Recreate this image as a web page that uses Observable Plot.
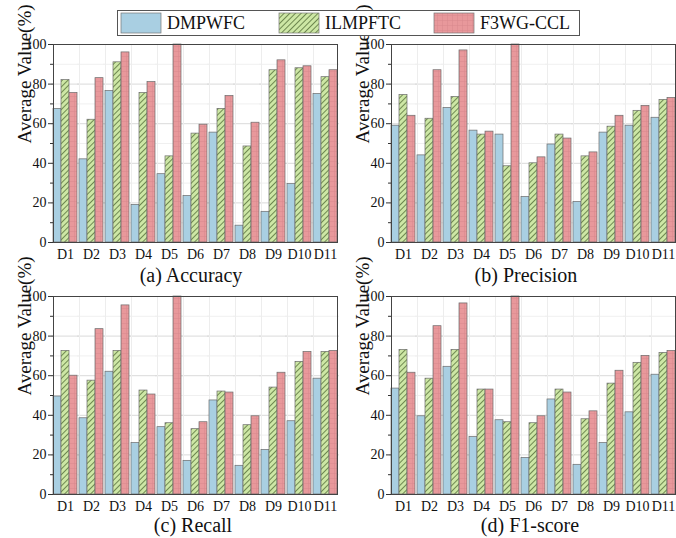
<!DOCTYPE html>
<html><head><meta charset="utf-8">
<script src="https://cdn.jsdelivr.net/npm/d3@7"></script>
<script src="https://cdn.jsdelivr.net/npm/@observablehq/plot@0.6"></script>
<style>
body{margin:0;background:#fff;overflow:hidden;font-family:"Liberation Serif","Times New Roman",serif;}
#root{position:relative;width:676px;height:538px;overflow:hidden;}
.panel{position:absolute;}
.title{position:absolute;font-size:20px;line-height:20px;transform:translateX(-50%);white-space:nowrap;color:#111;}
</style></head><body>
<svg width="0" height="0" style="position:absolute">
  <defs>
    <pattern id="pGreen" patternUnits="userSpaceOnUse" width="4" height="4" patternTransform="rotate(45)">
      <rect width="4" height="4" fill="#cde7a5"></rect>
      <line x1="0.5" y1="0" x2="0.5" y2="4" stroke="#55703a" stroke-width="0.8"></line>
    </pattern>
    <pattern id="pRed" patternUnits="userSpaceOnUse" width="5" height="5">
      <rect width="5" height="5" fill="#e8989b"></rect>
      <path d="M0,0.25H5M0.25,0V5" stroke="#d7878a" stroke-width="0.6" fill="none"></path>
    </pattern>
  </defs>
</svg>
<div id="root"></div>
<script>
const categories = ["D1","D2","D3","D4","D5","D6","D7","D8","D9","D10","D11"];
const methods = ["DMPWFC","ILMPFTC","F3WG-CCL"];

const accuracyDMPWFC  = [67.5, 42, 76.5, 19, 34.5, 23.5, 55.5, 8.5, 15.5, 29.5, 75];
const accuracyILMPFTC = [82, 62, 91, 75.5, 43.5, 55, 67.5, 48.5, 87, 88, 83.5];
const accuracyF3WG    = [75.5, 83, 96, 81, 100, 59.5, 74, 60.5, 92, 89, 87];

const precisionDMPWFC  = [59, 44, 68, 56.5, 54.5, 23, 49.5, 20.5, 55.5, 59, 63];
const precisionILMPFTC = [74.5, 62.5, 73.5, 54.5, 38.5, 40, 54.5, 43.5, 58.5, 66.5, 72];
const precisionF3WG    = [64, 87, 97, 56, 100, 43, 52.5, 45.5, 64, 69, 73];

const recallDMPWFC  = [49.5, 38.5, 62, 26, 34, 17, 47.5, 14.5, 22.5, 37, 58.5];
const recallILMPFTC = [72.5, 57.5, 72.5, 52.5, 36, 33, 52, 35, 54, 67, 72];
const recallF3WG    = [60, 83.5, 95.5, 50.5, 100, 36.5, 51.5, 39.5, 61.5, 72, 72.5];

const f1DMPWFC  = [53.5, 39.5, 64.5, 29, 37.5, 18.5, 48, 15, 26, 41.5, 60.5];
const f1ILMPFTC = [73, 58.5, 73, 53, 36.5, 36, 53, 38, 56, 66.5, 71.5];
const f1F3WG    = [61.5, 85, 96.5, 53, 100, 39.5, 51.5, 42, 62.5, 70, 72.5];

const panelTitles = ["(a) Accuracy","(b) Precision","(c) Recall","(d) F1-score"];
const yLabel = "Average Value(%)";
const yTicks = [0,20,40,60,80,100];
const yMinor = [10,30,50,70,90];

const fills = {"DMPWFC":"#a9cfe2","ILMPFTC":"url(#pGreen)","F3WG-CCL":"url(#pRed)"};

function toRows(a,b,c){
  const rows=[];
  [a,b,c].forEach((arr,i)=>arr.forEach((v,j)=>rows.push({cat:categories[j],method:methods[i],value:v})));
  return rows;
}

function makePanel(rows){
  return Plot.plot({
    width: 341, height: 230,
    marginLeft: 49, marginRight: 1, marginTop: 8, marginBottom: 24,
    style: {fontFamily: '"Liberation Serif","Times New Roman",serif', color: "#111", background: "transparent", overflow: "visible"},
    fx: {domain: categories, paddingInner: 0.09, paddingOuter: 0.06, label: null},
    x: {domain: methods, padding: 0, axis: null},
    y: {domain: [0,100], label: null},
    marks: [
      Plot.ruleY(yMinor, {y: d=>d, stroke: "#f0f0f0", insetLeft: -2, insetRight: -2}),
      Plot.ruleY(yTicks.slice(1,-1), {y: d=>d, stroke: "#dadada", insetLeft: -2, insetRight: -2}),
      Plot.frame({anchor: "left", stroke: "#ededed"}),
      ...methods.map(m => Plot.barY(rows.filter(d=>d.method===m), {
        fx: "cat", x: "method", y: "value", fill: fills[m], stroke: "#6b6b6b", strokeWidth: 0.7
      })),
      Plot.axisY({ticks: yTicks, tickSize: 5, tickPadding: 2, fontSize: 14, label: null, stroke: "#333"}),
      Plot.axisY({ticks: yMinor, tickSize: 3, tickFormat: () => "", label: null, stroke: "#333"}),
      Plot.axisFx({anchor: "bottom", tickSize: 0, tickPadding: 7, fontSize: 14, label: null}),
      Plot.frame({facet: "super", stroke: "#444", strokeWidth: 1}),
      Plot.text([yLabel], {text: d=>d, frameAnchor: "left", rotate: -90, dx: -29, fontSize: 19, facet: "super", fill: "#111"})
    ]
  });
}

const root = document.getElementById("root");
const panels = [
  {rows: toRows(accuracyDMPWFC, accuracyILMPFTC, accuracyF3WG), left: 0, top: 36, tx: 191, ty: 265},
  {rows: toRows(precisionDMPWFC, precisionILMPFTC, precisionF3WG), left: 338, top: 36, tx: 526, ty: 265},
  {rows: toRows(recallDMPWFC, recallILMPFTC, recallF3WG), left: 0, top: 288, tx: 193, ty: 515},
  {rows: toRows(f1DMPWFC, f1ILMPFTC, f1F3WG), left: 338, top: 288, tx: 530, ty: 515}
];
panels.forEach((p,i)=>{
  const el = makePanel(p.rows);
  el.classList.add("panel");
  el.style.left = p.left+"px"; el.style.top = p.top+"px";
  root.appendChild(el);
  const t = document.createElement("div");
  t.className = "title"; t.textContent = panelTitles[i];
  t.style.left = p.tx+"px"; t.style.top = p.ty+"px";
  root.appendChild(t);
});

// legend
const lg = d3.create("svg").attr("width",463).attr("height",26)
  .style("position","absolute").style("left","117px").style("top","10px");
lg.append("rect").attr("x",0.5).attr("y",0.5).attr("width",462).attr("height",25).attr("fill","#fff").attr("stroke","#555");
const lx = [4, 162, 317];
methods.forEach((m,i)=>{
  lg.append("rect").attr("x",lx[i]).attr("y",3).attr("width",40).attr("height",20)
    .attr("fill",fills[m]).attr("stroke","#777").attr("stroke-width",0.7);
  lg.append("text").attr("x",lx[i]+46).attr("y",19).attr("font-size",18)
    .attr("font-family",'"Liberation Serif","Times New Roman",serif').attr("fill","#111").text(m);
});
root.appendChild(lg.node());
</script>
</body></html>
